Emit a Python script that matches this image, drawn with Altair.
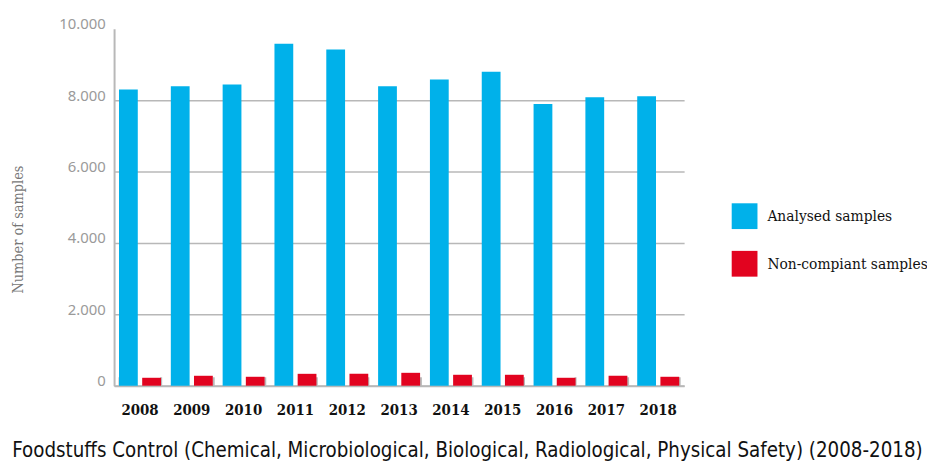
import altair as alt
import pandas as pd

years = ["2008", "2009", "2010", "2011", "2012", "2013", "2014", "2015", "2016", "2017", "2018"]
analysed = [8300, 8390, 8440, 9580, 9420, 8390, 8580, 8800, 7890, 8080, 8110]
noncompliant = [222, 278, 250, 333, 333, 361, 306, 306, 222, 278, 250]
series_names = ["Analysed samples", "Non-compiant samples"]
series_colors = ["#00B1EA", "#E2031F"]

rows = []
for y, a, n in zip(years, analysed, noncompliant):
    rows.append({"year": y, "series": series_names[0], "value": a})
    rows.append({"year": y, "series": series_names[1], "value": n})
df = pd.DataFrame(rows)

GRID = "#b8b8b8"

x_scale = alt.Scale(paddingInner=0.19, paddingOuter=0.095)
xo_scale = alt.Scale(domain=series_names, paddingInner=0.19)
y_scale = alt.Scale(domain=[0, 10000])
color_scale = alt.Scale(domain=series_names, range=series_colors)

legend = alt.Legend(
    orient="none", legendX=623, legendY=176, title=None,
    symbolType="square", symbolSize=676, symbolStrokeWidth=0, symbolOpacity=1,
    labelFont="DejaVu Serif Condensed", labelFontSize=15.5, labelColor="#111",
    rowPadding=22, labelOffset=10, labelLimit=300,
)

main_x_axis = alt.Axis(
    orient="bottom",
    title=None, ticks=False, domain=True, domainColor=GRID, domainWidth=2,
    labelFont="DejaVu Serif Condensed", labelFontWeight="bold", labelFontSize=15,
    labelColor="#111", labelPadding=17, labelAngle=0, grid=False,
)
tick_x_axis = alt.Axis(
    orient="bottom",
    title=None, labels=False, domain=False, ticks=True, tickSize=9, offset=-9,
    tickColor=GRID, tickWidth=2, tickBand="extent", grid=False,
)
y_axis = alt.Axis(
    values=[0, 2000, 4000, 6000, 8000, 10000],
    labelExpr="replace(format(datum.value, ','), ',', '.')",
    ticks=False, domain=True, domainColor=GRID, domainWidth=2,
    grid=True, gridColor=GRID, gridWidth=1.5,
    gridOpacity=alt.expr("datum.value == 10000 ? 0 : 1"),
    labelFont="Noto Sans", labelFontSize=15, labelColor="#9a9a9a",
    labelBaseline="alphabetic", labelPadding=9,
    title="Number of samples", titleFont="DejaVu Serif Condensed",
    titleFontSize=14.5, titleFontWeight="normal", titleColor="#777",
    titleAngle=270, titleX=-96, titleY=202, titleAlign="center", titleBaseline="middle",
)

blue = alt.Chart(df).transform_filter(
    alt.datum.series == series_names[0]
).mark_bar().encode(
    x=alt.X("year:N", scale=x_scale, axis=main_x_axis),
    xOffset=alt.XOffset("series:N", scale=xo_scale),
    y=alt.Y("value:Q", scale=y_scale, axis=y_axis),
    color=alt.Color("series:N", scale=color_scale, legend=legend),
)

red = alt.Chart(df).transform_filter(
    alt.datum.series == series_names[1]
).mark_bar().encode(
    x=alt.X("year:N", scale=x_scale, axis=tick_x_axis),
    xOffset=alt.XOffset("series:N", scale=xo_scale),
    y=alt.Y("value:Q", scale=y_scale, axis=y_axis),
    color=alt.Color("series:N", scale=color_scale, legend=legend),
)

chart = alt.layer(blue, red).resolve_axis(x="independent").properties(
    width=575, height=360,
    autosize=alt.AutoSizeParams(type="none"),
    padding={"left": 107, "top": 19, "right": 245, "bottom": 78},
    title=alt.TitleParams(
        "Foodstuffs Control (Chemical, Microbiological, Biological, Radiological, Physical Safety) (2008-2018)",
        orient="bottom", anchor="middle", dx=69, offset=24,
        font="'Liberation Sans Narrow', 'DejaVu Sans Condensed', sans-serif",
        fontSize=20.5, fontWeight="normal", color="#111",
    ),
).configure_view(stroke=None)

chart.save("out.html", embed_options={"renderer": "svg", "actions": False})
